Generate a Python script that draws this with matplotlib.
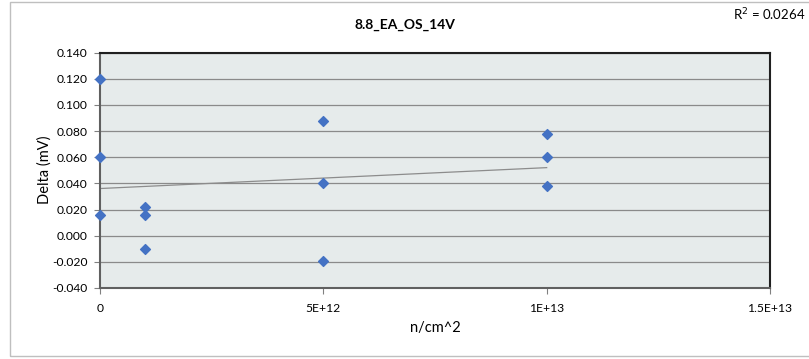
import matplotlib.pyplot as plt
import matplotlib.patches as patches
import numpy as np

plt.rcParams['font.family'] = ['Lato', 'DejaVu Sans']

# fluence (n/cm^2) and measured delta (mV)
fluence = [0, 0, 0, 1e12, 1e12, 1e12, 5e12, 5e12, 5e12, 1e13, 1e13, 1e13]
delta = [0.120, 0.060, 0.016, 0.022, 0.016, -0.010, 0.088, 0.040, -0.019, 0.078, 0.060, 0.038]
x_ticks = [0, 5e12, 1e13, 1.5e13]
x_tick_labels = ['0', '5E+12', '1E+13', '1.5E+13']
y_ticks = np.arange(-0.04, 0.1401, 0.02)
r2_text = 'R$^2$ = 0.0264'

W, H = 809, 359
fig = plt.figure(figsize=(W / 100, H / 100), dpi=100)

# outer chart border
fig.patches.append(patches.Rectangle((10 / W, 3 / H), 1.2, (356 - 1.5) / H,
                                     transform=fig.transFigure, fill=False,
                                     edgecolor='#bfbfbf', linewidth=1))

ax = fig.add_axes([100 / W, (H - 288) / H, 670 / W, 235.5 / H])
ax.set_facecolor('#e6ebeb')

ax.scatter(fluence, delta, marker='D', s=25, color='#4472c4', zorder=3, clip_on=False)

# linear trendline
slope, icept = np.polyfit(fluence, delta, 1)
xs = np.array([min(fluence), max(fluence)])
ax.plot(xs, slope * xs + icept, color='#8c8c8c', linewidth=0.9, zorder=2)

ax.set_xlim(0, 1.5e13)
ax.set_ylim(-0.04, 0.14)
ax.set_xticks(x_ticks)
ax.set_xticklabels(x_tick_labels)
ax.set_yticks(y_ticks)
ax.set_yticklabels(['%.3f' % v for v in y_ticks])
ax.yaxis.grid(True, color='#8a8a8a', linewidth=0.9)
ax.set_axisbelow(True)
ax.tick_params(axis='both', labelsize=8.7, length=4, width=0.8, color='#808080', pad=5)
ax.tick_params(axis='x', pad=7)

for side in ['top', 'right']:
    ax.spines[side].set_color('#202020')
    ax.spines[side].set_linewidth(1.5)
for side in ['left', 'bottom']:
    ax.spines[side].set_color('#606060')
    ax.spines[side].set_linewidth(1.5)

ax.set_xlabel('n/cm^2', fontsize=10.5)
ax.xaxis.set_label_coords(0.5, -0.14)
ax.set_ylabel('Delta (mV)', fontsize=10.5)
ax.yaxis.set_label_coords(-0.072, 0.5)

fig.text(405 / W, 1 - 25 / H, '8.8_EA_OS_14V', ha='center', va='center',
         fontsize=10, fontweight='bold')
fig.text(805 / W, 1 - 15 / H, r2_text, ha='right', va='center', fontsize=9.5)

fig.savefig('out.png', dpi=100)
